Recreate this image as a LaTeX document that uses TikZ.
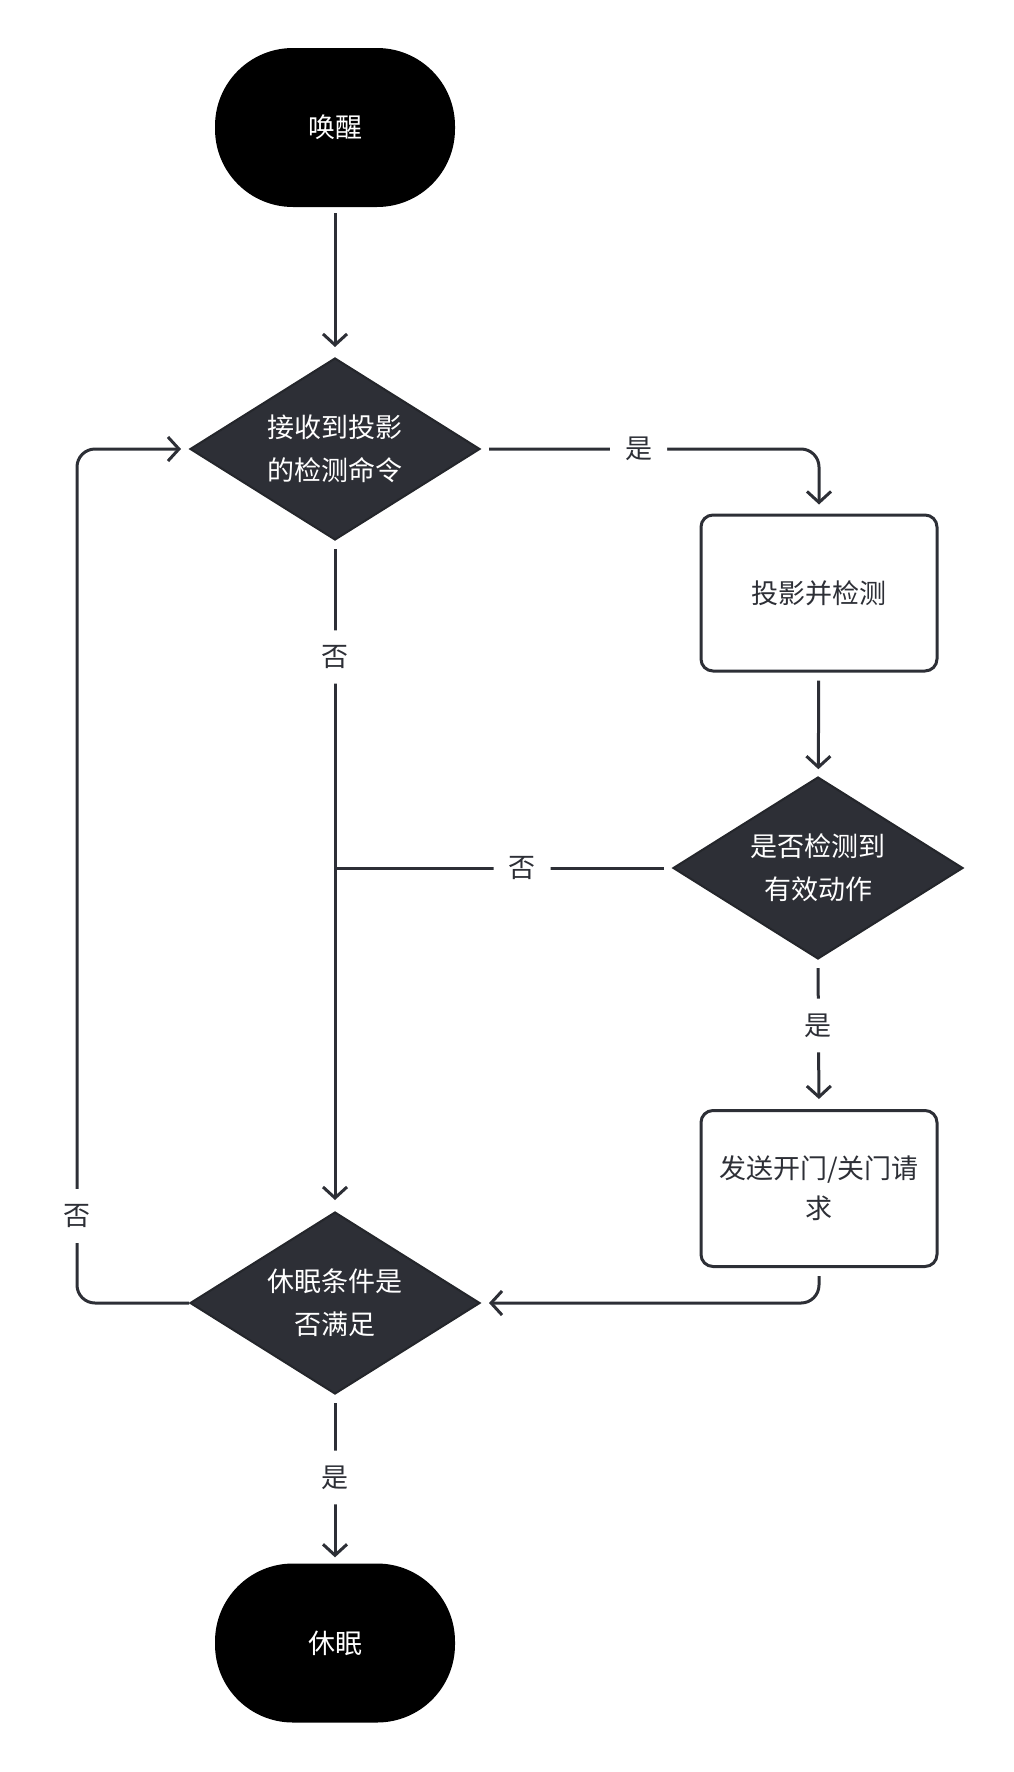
\documentclass[tikz,border=0pt]{standalone}
\usepackage{fontspec}
\newfontfamily\cjk{Noto Sans CJK SC}
\usetikzlibrary{arrows.meta,shapes.geometric}
\definecolor{ink}{HTML}{2D2F36}
\tikzset{
  flow/.style={line width=3pt, color=ink, rounded corners=18pt},
  arr/.style={-{Straight Barb[length=11pt,width=24pt,line width=3pt]}},
  term/.style={rectangle, rounded corners=78pt, fill=black, minimum width=240pt, minimum height=159pt, text=white, font=\cjk\fontsize{27}{43}\selectfont},
  decide/.style={diamond, aspect=1.6, draw=ink!80!black, line width=2pt, fill=ink, minimum width=290pt, minimum height=182pt, inner sep=0pt, text=white, align=center, font=\cjk\fontsize{27}{43}\selectfont},
  proc/.style={rectangle, rounded corners=12pt, draw=ink, line width=3pt, fill=white, minimum width=236pt, minimum height=156pt, align=center, text=ink, font=\cjk\fontsize{27}{40}\selectfont},
  lbl/.style={fill=white, inner sep=15pt, text=ink, font=\cjk\fontsize{27}{30}\selectfont}
}

\begin{document}
\begin{tikzpicture}[x=1pt, y=-1pt]
	%%%%% START %%%%%
	\useasboundingbox (0,0) rectangle (1014,1772);

	\node[term] (wake) at (335, 127.5) {唤醒};
	\node[decide] (recv) at (335, 449) {接收到投影\\的检测命令};
	\node[proc] (scan) at (819, 593) {投影并检测};
	\node[decide] (valid) at (818, 868) {是否检测到\\有效动作};
	\node[proc] (send) at (819, 1188.5) {发送开门/关门请\\求};
	\node[decide] (idle) at (335, 1303) {休眠条件是\\否满足};
	\node[term] (sleep) at (335, 1643) {休眠};

	\coordinate (merge) at (335, 868);
	\coordinate (rail) at (77, 875);

	\draw[flow, arr, shorten <=6pt, shorten >=10pt] (wake) -- (recv);
	\draw[flow, arr, shorten <=8pt, shorten >=9pt] (recv.east) -| node[lbl, pos=0.233] (yes1) {是} (scan.north);
	\draw[flow, arr, shorten <=8pt, shorten >=7pt] (scan) -- (valid);
	\draw[flow, shorten <=8pt] (valid.west) -- node[lbl, pos=0.445] (no2) {否} (merge);
	\draw[flow, arr, shorten <=8pt, shorten >=11pt] (recv.south) -- node[lbl, pos=0.173] (no1) {否} (idle.north);
	\draw[flow, arr, shorten <=8pt, shorten >=10pt] (valid.south) -- node[lbl, pos=0.44] (yes2) {是} (send.north);
	\draw[flow, arr, shorten <=8pt, shorten >=8pt] (send.south) |- (idle.east);
	\draw[flow, arr, shorten >=8pt] (idle.west) -| (rail) |- (recv.west);
	\node[lbl] (no3) at (77, 1216) {否};
	\draw[flow, arr, shorten <=8pt, shorten >=6pt] (idle.south) -- node[lbl, pos=0.49] (yes3) {是} (sleep);

	%%%%% END %%%%%
\end{tikzpicture}
\end{document}
